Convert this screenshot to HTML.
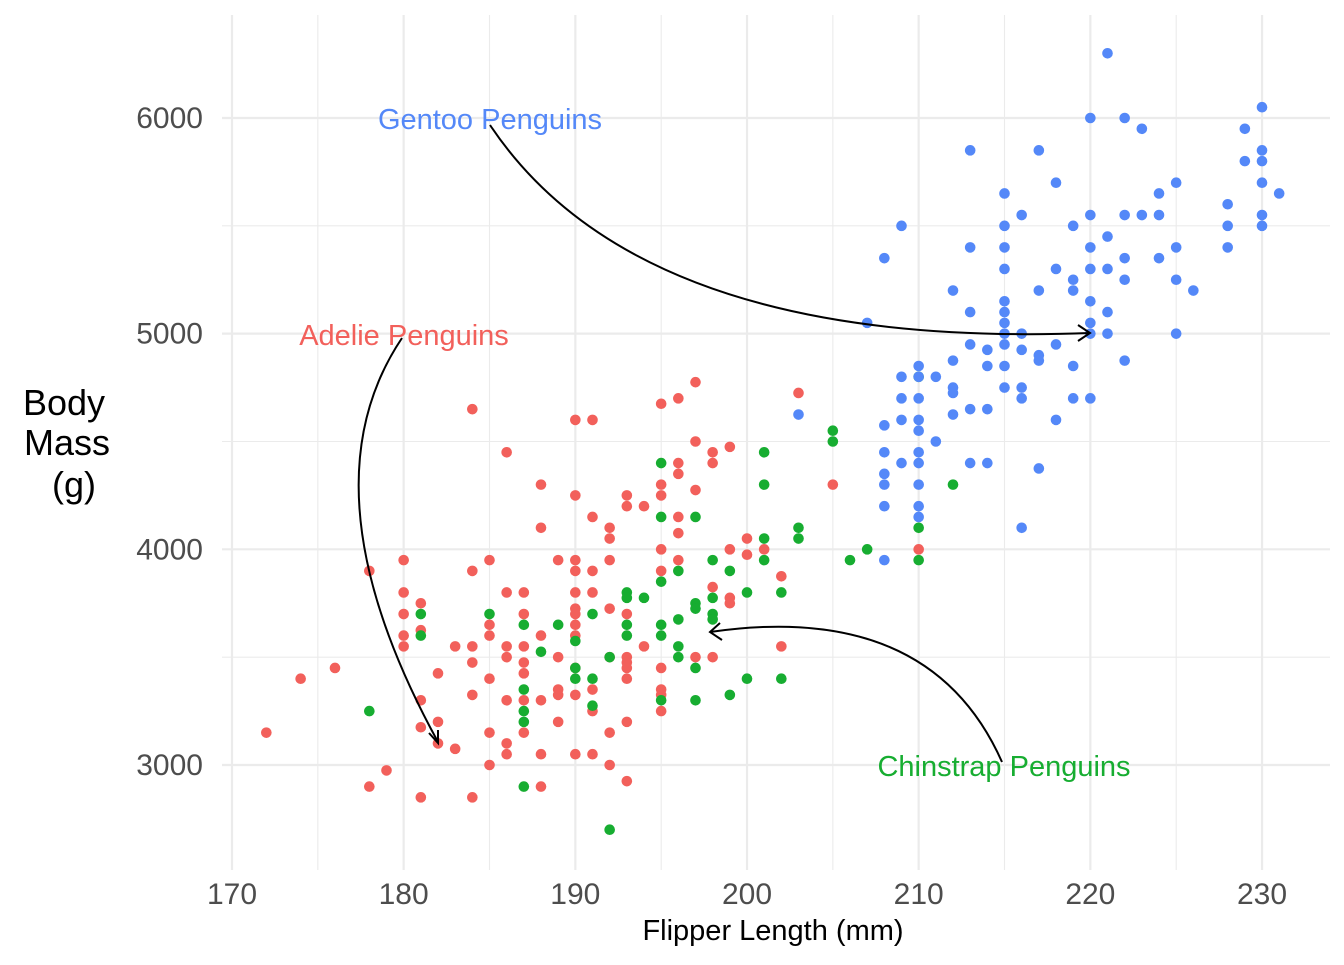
<!DOCTYPE html>
<html><head><meta charset="utf-8"><style>
body{margin:0;background:#fff;font-family:"Liberation Sans",Arial,sans-serif}
svg text{font-family:"Liberation Sans",Arial,sans-serif}
</style></head><body>
<svg id="c" width="1344" height="960" xmlns="http://www.w3.org/2000/svg">
<g id="grid"></g>
<g id="pts"></g>
<g id="ann"></g>
<g id="axes"></g>
<text x="64" y="415" font-size="36" text-anchor="middle">Body</text>
<text x="67" y="455" font-size="36" text-anchor="middle">Mass</text>
<text x="74" y="497" font-size="36" text-anchor="middle">(g)</text>
<text x="773" y="940" font-size="29" text-anchor="middle">Flipper Length (mm)</text>
</svg>
<script>
const xTicks=[170,180,190,200,210,220,230];
const yTicks=[3000,4000,5000,6000];
const gentooFlipper=[221,230,220,222,223,229,213,217,230,229,230,218,225,230,224,215,231,228,216,220,222,223,224,230,209,215,219,228,230,221,213,215,220,225,228,208,222,224,215,218,220,221,219,222,225,212,217,219,226,215,220,215,213,221,207,215,220,216,215,220,221,225,213,215,218,214,216,217,210,212,214,215,217,219,222,209,210,211,215,216,212,212,216,210,209,219,220,213,214,212,203,209,210,218,208,210,211,208,210,209,210,213,214,217,208,208,210,208,210,210,216,208];
const gentooMass=[6300,6050,6000,6000,5950,5950,5850,5850,5850,5800,5800,5700,5700,5700,5650,5650,5650,5600,5550,5550,5550,5550,5550,5550,5500,5500,5500,5500,5500,5450,5400,5400,5400,5400,5400,5350,5350,5350,5300,5300,5300,5300,5250,5250,5250,5200,5200,5200,5200,5150,5150,5100,5100,5100,5050,5050,5050,5000,5000,5000,5000,5000,4950,4950,4950,4925,4925,4900,4850,4875,4850,4850,4875,4850,4875,4800,4800,4800,4750,4750,4750,4725,4700,4700,4700,4700,4700,4650,4650,4625,4625,4600,4600,4600,4575,4550,4500,4450,4450,4400,4400,4400,4400,4375,4350,4300,4300,4200,4200,4150,4100,3950];
const adelieFlipper=[172,174,176,178,178,179,180,180,180,180,180,181,181,181,181,181,182,182,182,183,183,184,184,184,184,184,184,185,185,185,185,185,185,186,186,186,186,186,186,186,187,187,187,187,187,187,187,188,188,188,188,188,188,189,189,189,189,189,190,190,190,190,190,190,190,190,190,190,190,190,191,191,191,191,191,191,191,192,192,192,192,192,192,192,193,193,193,193,193,193,193,193,193,194,194,195,195,195,195,195,195,195,195,195,196,196,196,196,196,196,197,197,197,197,198,198,198,198,199,199,199,199,200,200,201,202,202,203,205,210];
const adelieMass=[3150,3400,3450,3900,2900,2975,3950,3800,3700,3600,3550,3750,3625,3300,3175,2850,3425,3200,3100,3550,3075,4650,3900,3550,3475,3325,2850,3950,3650,3600,3400,3150,3000,4450,3800,3550,3500,3300,3100,3050,3800,3700,3550,3475,3425,3300,3150,4300,4100,3600,3300,3050,2900,3950,3500,3350,3325,3200,4600,4250,3950,3900,3800,3725,3700,3650,3600,3450,3325,3050,4600,4150,3900,3800,3350,3250,3050,4100,4050,3950,3725,3500,3150,3000,4250,4200,3700,3500,3475,3450,3400,3200,2925,4200,3550,4675,4300,4250,4000,3900,3450,3350,3325,3250,4700,4400,4350,4150,4075,3950,4775,4500,4275,3500,4450,4400,3825,3500,4475,4000,3775,3750,4050,3975,4000,3875,3550,4725,4300,4000];
const chinFlipper=[178,181,181,185,187,187,187,187,187,188,189,190,190,190,191,191,191,192,192,193,193,193,193,194,195,195,195,195,195,195,196,196,196,196,197,197,197,197,197,198,198,198,198,199,199,200,200,201,201,201,201,202,202,203,203,205,205,206,207,210,210,210,212];
const chinMass=[3250,3700,3600,3700,3650,3350,3250,3200,2900,3525,3650,3575,3450,3400,3700,3400,3275,3500,2700,3800,3775,3650,3600,3775,4400,4150,3850,3650,3600,3300,3900,3675,3550,3500,4150,3750,3725,3450,3300,3950,3775,3700,3675,3900,3325,3800,3400,4450,4300,4050,3950,3800,3400,4100,4050,4550,4500,3950,4000,4800,4100,3950,4300];
const NS='http://www.w3.org/2000/svg';
const X=v=>232+(v-170)*17.167;
const Y=v=>765-(v-3000)*0.21567;
function mk(tag,attrs,parent){const e=document.createElementNS(NS,tag);for(const k in attrs)e.setAttribute(k,attrs[k]);parent.appendChild(e);return e;}
const grid=document.getElementById('grid'),axes=document.getElementById('axes');
for(let v=165;v<=235;v+=5){const x=X(v);if(x<222||x>1330)continue;const major=v%10===0;
 const l=mk('line',{x1:x,x2:x,y1:15,y2:870,stroke:'#ebebeb','stroke-width':major?2.2:1.1},grid);
 }
for(let v=2500;v<=6500;v+=500){const y=Y(v);if(y<15||y>870)continue;const major=v%1000===0;
 const l=mk('line',{x1:222,x2:1330,y1:y,y2:y,stroke:'#ebebeb','stroke-width':major?2.2:1.1},grid);
 }
xTicks.forEach(v=>{const t=mk('text',{x:X(v),y:904,'font-size':30,fill:'#4d4d4d','text-anchor':'middle'},axes);t.textContent=v;
 });
yTicks.forEach(v=>{const t=mk('text',{x:203,y:Y(v)+10,'font-size':30,fill:'#4d4d4d','text-anchor':'end'},axes);t.textContent=v;
 });
const pts=document.getElementById('pts');
function series(xs,ys,col,name){xs.forEach((x,i)=>{const c=mk('circle',{cx:X(x),cy:Y(ys[i]),r:5.3,fill:col},pts);
 });}
series(adelieFlipper,adelieMass,'#F2605B','adelie-point');
series(chinFlipper,chinMass,'#17AD31','chinstrap-point');
series(gentooFlipper,gentooMass,'#5488F8','gentoo-point');
const ann=document.getElementById('ann');
function curve(d,arrow,name){const p=mk('path',{d:d,fill:'none',stroke:'#000','stroke-width':2},ann);
 
 const a=mk('path',{d:arrow,fill:'none',stroke:'#000','stroke-width':2},ann);
 }
curve('M490,125 Q640,350 1090,333','M1078,325 L1090,333 L1078,341','gentoo-arrow');
curve('M402,338 Q300,490 438,742','M429,733 L438,743 L438,730','adelie-arrow');
curve('M1002,762 Q930,600 710,632','M720,623 L710,632 L722,640','chinstrap-arrow');
function lab(x,y,txt,col,name){const t=mk('text',{x:x,y:y,'font-size':29,fill:col,'text-anchor':'middle'},ann);t.textContent=txt;
 }
lab(490,129,'Gentoo Penguins','#5488F8','gentoo-label');
lab(404,345,'Adelie Penguins','#F2605B','adelie-label');
lab(1004,776,'Chinstrap Penguins','#17AD31','chinstrap-label');
</script>
</body></html>
